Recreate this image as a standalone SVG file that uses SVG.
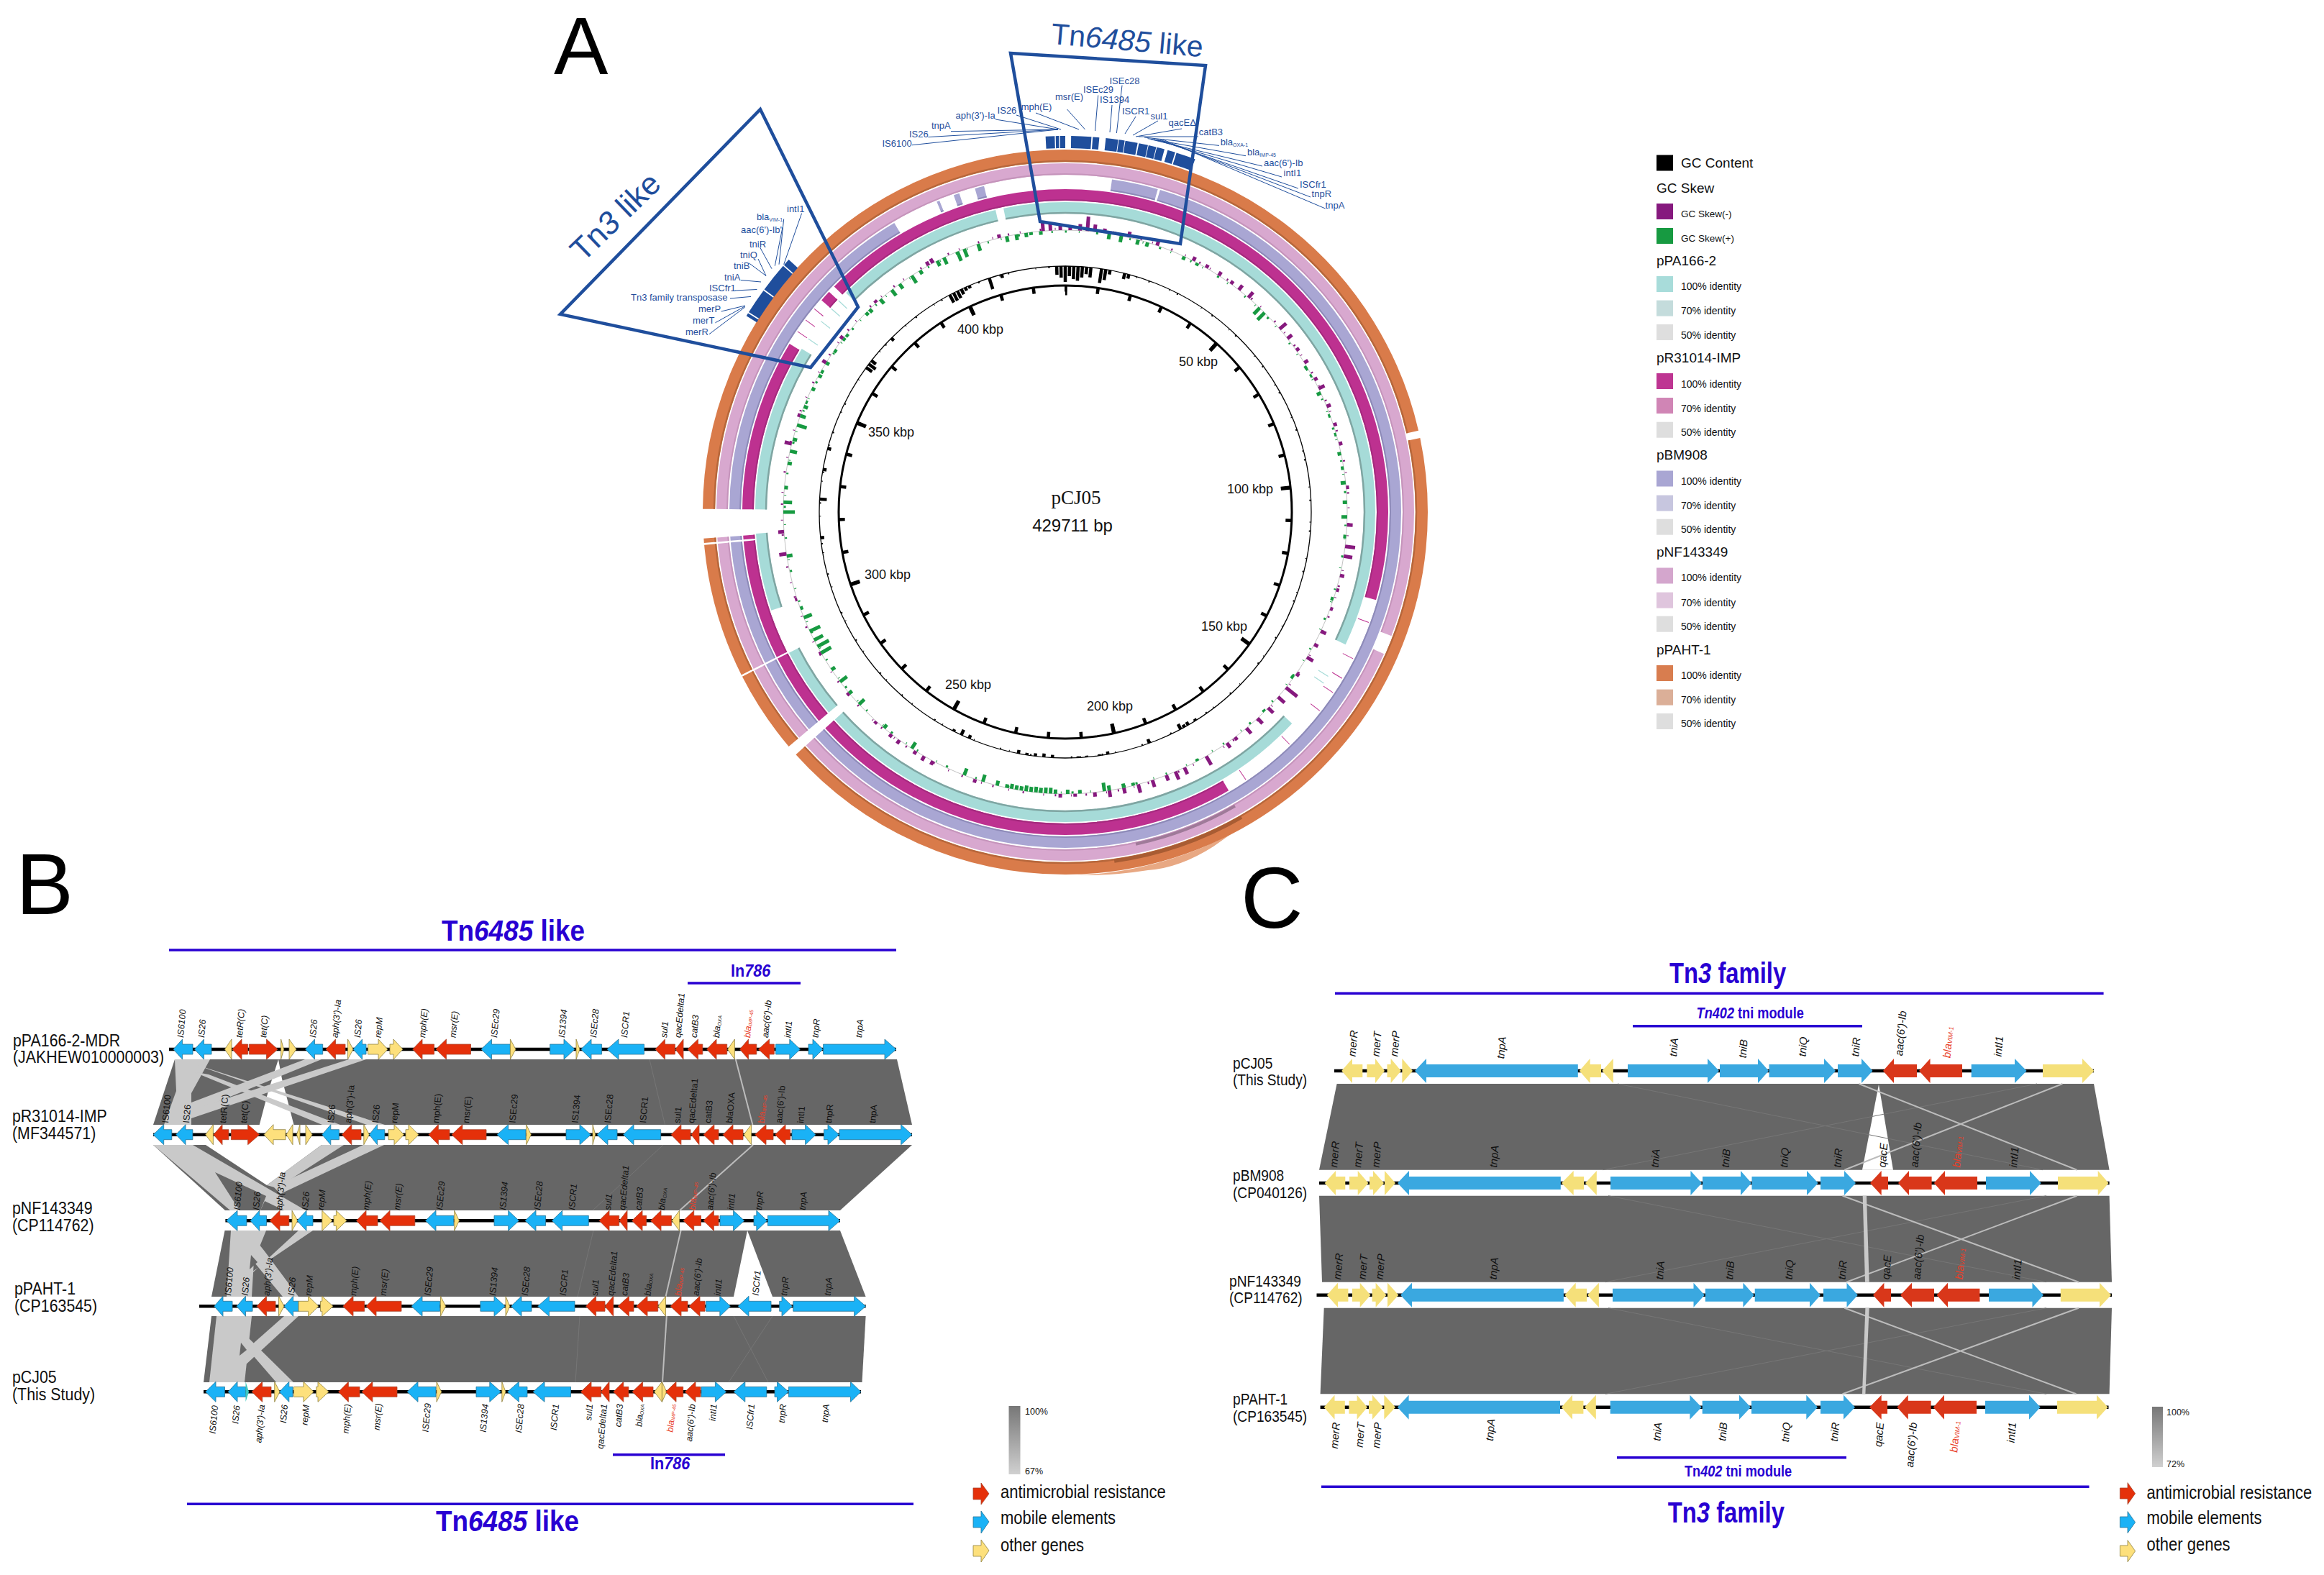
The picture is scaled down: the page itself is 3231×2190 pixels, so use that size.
<svg xmlns="http://www.w3.org/2000/svg" width="3231" height="2190" viewBox="0 0 3231 2190">
<style>
text{font-family:"Liberation Sans",Arial,sans-serif;fill:#111}
.big{font-size:120px;fill:#000}
.fb{fill:#2800d2;font-weight:bold}
.ttl{font-size:41px}.sub{font-size:24px}.mod{font-size:22px}
.ln{stroke:#2800d2;stroke-width:3.5;fill:none}
.t{font-size:24px}.tc{font-size:22px}
.g{font-size:12.5px;font-style:italic;dominant-baseline:central}
.c{font-size:15px;font-style:italic;dominant-baseline:central}
.n{font-style:normal}.e{text-anchor:end}.rd{fill:#e8402a}
.l{stroke:#000;stroke-width:4.5;fill:none}
.b{fill:#1ab2f6;stroke:#2c7596;stroke-width:.8}
.r{fill:#e5300a;stroke:#a8482f;stroke-width:.8}
.y{fill:#fde07c;stroke:#8f8240;stroke-width:.8}
.bc{fill:#3aa8e0}.rc{fill:#d9371a}.yc{fill:#f5e07a}
.d{fill:#666}.lt{fill:#c9c9c9}.wh{fill:#fff}
.f{stroke:#767676;stroke-width:1;fill:none}.h{stroke:#bcbcbc;stroke-width:2;fill:none}
.an{fill:#1f4e9c;font-size:13px}.lead{stroke:#1f4e9c;stroke-width:1;fill:none}
.frame{stroke:#1f4e9c;stroke-width:4.5;fill:none}
.lg1{font-size:19px}.lg2{font-size:14px}.lg3{font-size:13.5px}
.leg{font-size:25px}.pc{font-size:12.5px}
.kb{font-size:18px;text-anchor:middle}
.ring{fill:none}
</style>
<defs>
<linearGradient id="sc" x1="0" y1="0" x2="0" y2="1"><stop offset="0" stop-color="#777"/><stop offset="1" stop-color="#d0d0d0"/></linearGradient>
</defs>

<text x="770" y="103" style="font-size:113px;fill:#000">A</text>
<text class="big" x="22" y="1271">B</text>
<text class="big" x="1725" y="1290">C</text>

<g id="panel-A-rings">
<path d="M1820 1083L1687 1177Q1640 1207 1596 1210Q1545 1218 1497 1217A504 504 0 0 0 1820 1083Z" fill="#e8a883"/>
<g transform="translate(1481 712) rotate(-90)" class="ring">
<circle id="ring-pPAHT-1" r="495.5" stroke="#d97b4a" stroke-width="17" pathLength="360" stroke-dasharray="77 1.2 149.8 1.7 13.3 .3 21.5 .3 .7 4.7 89.5"/>
<circle id="ring-pNF143349" r="477" stroke="#d8a8cf" stroke-width="16" pathLength="360" stroke-dasharray="110.8 3.2 114 1.7 13.3 .3 21.5 .3 .7 4.7 89.5"/>
<circle id="ring-pBM908" r="459" stroke="#a9a6d3" stroke-width="16" pathLength="360" stroke-dasharray="0 8 8 .4 211.6 1.7 13.3 .3 21.5 .3 .7 4.7 58.9 8.1 .5 2.6 1 2.8 1.6 14"/>
<circle id="ring-pR31014" r="441" stroke="#bd3190" stroke-width="16" pathLength="360" stroke-dasharray="105.8 43.8 78.4 1.7 13.3 .3 21.5 .3 .7 4.7 30.9 9.6 2 1.3 45.7"/>
<circle id="ring-pPA166" r="423" stroke="#a6dbd8" stroke-width="16" pathLength="360" stroke-dasharray="115.3 17.7 95 1.7 13.3 8.5 14.5 4.5 31.3 13.2 32 1.5 11.5"/>
<circle r="416" stroke="#7fa5a2" stroke-width="2.5" pathLength="360" stroke-dasharray="115.3 17.7 95 1.7 13.3 8.5 14.5 4.5 31.3 13.2 32 1.5 11.5"/>
<circle r="434" stroke="#a52a7e" stroke-width="2" pathLength="360" stroke-dasharray="105.8 43.8 78.4 1.7 13.3 .3 21.5 .3 .7 4.7 30.9 9.6 2 1.3 45.7"/>
<circle r="452" stroke="#8d8ab8" stroke-width="2" pathLength="360" stroke-dasharray="0 8 8 .4 211.6 1.7 13.3 .3 21.5 .3 .7 4.7 58.9 8.1 .5 2.6 1 2.8 1.6 14"/>
<circle r="470" stroke="#c594bb" stroke-width="2" pathLength="360" stroke-dasharray="110.8 3.2 114 1.7 13.3 .3 21.5 .3 .7 4.7 89.5"/>
<circle r="488" stroke="#b7673b" stroke-width="2.5" pathLength="360" stroke-dasharray="77 1.2 149.8 1.7 13.3 .3 21.5 .3 .7 4.7 89.5"/>
<circle r="472" stroke="#9f7a99" stroke-width="4" pathLength="360" stroke-dasharray="0 150 18 192"/>
<circle r="490" stroke="#a85c33" stroke-width="5" pathLength="360" stroke-dasharray="0 150 22 188"/>
<circle id="features-Tn6485" r="514.5" stroke="#1f4e9c" stroke-width="17" pathLength="360" stroke-dasharray="1.4 .15 .5 .15 .8 .9 3.1 .2 1 1 1.9 .1 .9 .1 1.9 .2 1.4 .1 1.2 .1 1.2 .5 1.2 .2 3 337.1" transform="rotate(-3)"/>
<circle id="features-Tn3" r="512" stroke="#1f4e9c" stroke-width="17" pathLength="360" stroke-dasharray=".5 .2 4 .2 4.6 .2 1.1 349.2" transform="rotate(-58.4)"/>
<circle r="392" stroke="#999" stroke-width=".6"/>
<circle r="390" stroke="#179a41" stroke-width="3" stroke-dasharray="2 17 1 23 3 14 1 29"/>
<circle r="394" stroke="#86197e" stroke-width="3" stroke-dasharray="1 21 2 15 1 27 2 19" stroke-dashoffset="4"/>
<circle r="342" stroke="#000" stroke-width="1.3"/>
<circle r="341" stroke="#000" stroke-width="2.5" stroke-dasharray="1 17 2 29 1 11 2 37"/>
<circle r="315" stroke="#000" stroke-width="3"/>
<circle r="311" stroke="#000" stroke-width="9" pathLength="429.711" stroke-dasharray="1 9" stroke-dashoffset=".5"/>
<circle r="308.5" stroke="#000" stroke-width="14" pathLength="429.711" stroke-dasharray="1.2 48.8" stroke-dashoffset=".6"/>
</g>
<g transform="translate(1481 712)" fill="none">
<g stroke="#bd3190" stroke-width="1">
<path d="M0-449v16" transform="rotate(110)"/><path d="M0-449v16" transform="rotate(117)"/><path d="M0-449v16" transform="rotate(121)"/><path d="M0-449v16" transform="rotate(124)"/><path d="M0-449v16" transform="rotate(128)"/><path d="M0-449v16" transform="rotate(136)"/><path d="M0-449v16" transform="rotate(146)"/><path d="M0-449v16" transform="rotate(304)"/><path d="M0-449v16" transform="rotate(306.5)"/><path d="M0-449v16" transform="rotate(309)"/>
</g>
<g stroke="#a6dbd8" stroke-width="1.2">
<path d="M0-431v16" transform="rotate(122)"/><path d="M0-431v16" transform="rotate(123.5)"/><path d="M0-431v16" transform="rotate(304)"/><path d="M0-431v16" transform="rotate(308)"/><path d="M0-431v16" transform="rotate(311)"/><path d="M0-431v16" transform="rotate(313)"/>
</g>
<g id="gc-skew-neg" stroke="#86197e" stroke-width="5">
<path d="M0-392v-14" transform="rotate(-4.5)"/><path d="M0-392v-10" transform="rotate(-3)"/><path d="M0-392v-8" transform="rotate(-1)"/><path d="M0-392v-6" transform="rotate(1)"/><path d="M0-392v-9" transform="rotate(3)"/><path d="M0-392v-20" transform="rotate(4.5)"/><path d="M0-392v-10" transform="rotate(6)"/><path d="M0-392v-6" transform="rotate(8)"/><path d="M0-392v-4" transform="rotate(10)"/><path d="M0-392v-8" transform="rotate(13)"/><path d="M0-392v-7" transform="rotate(19)"/><path d="M0-392v-6" transform="rotate(27)"/><path d="M0-392v-5" transform="rotate(30)"/><path d="M0-392v-6" transform="rotate(33)"/><path d="M0-392v-5" transform="rotate(36)"/><path d="M0-392v-8" transform="rotate(38)"/><path d="M0-392v-10" transform="rotate(40.5)"/><path d="M0-392v-12" transform="rotate(49.5)"/><path d="M0-392v-8" transform="rotate(52)"/><path d="M0-392v-5" transform="rotate(55)"/><path d="M0-392v-6" transform="rotate(58)"/><path d="M0-392v-5" transform="rotate(62)"/><path d="M0-392v-9" transform="rotate(64)"/><path d="M0-392v-6" transform="rotate(68)"/><path d="M0-392v-5" transform="rotate(72)"/><path d="M0-392v-5" transform="rotate(76)"/><path d="M0-392v-4" transform="rotate(85)"/><path d="M0-392v-8" transform="rotate(92.6)"/><path d="M0-392v-14" transform="rotate(97)"/><path d="M0-392v-12" transform="rotate(99)"/><path d="M0-392v-6" transform="rotate(103)"/><path d="M0-392v-4" transform="rotate(106)"/><path d="M0-392v-4" transform="rotate(110)"/><path d="M0-392v-8" transform="rotate(115)"/><path d="M0-392v-6" transform="rotate(118)"/><path d="M0-392v-10" transform="rotate(121)"/><path d="M0-392v-5" transform="rotate(125)"/><path d="M0-392v-20" transform="rotate(128.5)"/><path d="M0-392v-12" transform="rotate(131)"/><path d="M0-392v-10" transform="rotate(134)"/><path d="M0-392v-10" transform="rotate(137)"/><path d="M0-392v-10" transform="rotate(140)"/><path d="M0-392v-5" transform="rotate(143)"/><path d="M0-392v-8" transform="rotate(145)"/><path d="M0-392v-14" transform="rotate(150)"/><path d="M0-392v-10" transform="rotate(155)"/><path d="M0-392v-12" transform="rotate(157)"/><path d="M0-392v-8" transform="rotate(159)"/><path d="M0-392v-10" transform="rotate(162)"/><path d="M0-392v-12" transform="rotate(165)"/><path d="M0-392v-8" transform="rotate(168)"/><path d="M0-392v-9" transform="rotate(171)"/><path d="M0-392v-6" transform="rotate(174)"/><path d="M0-392v-4" transform="rotate(178)"/><path d="M0-392v-5" transform="rotate(181)"/><path d="M0-392v-5" transform="rotate(198.6)"/><path d="M0-392v-6" transform="rotate(208)"/><path d="M0-392v-7" transform="rotate(210)"/><path d="M0-392v-5" transform="rotate(212)"/><path d="M0-392v-6" transform="rotate(216)"/><path d="M0-392v-5" transform="rotate(218)"/><path d="M0-392v-4" transform="rotate(222)"/><path d="M0-392v-4" transform="rotate(230)"/><path d="M0-392v-3" transform="rotate(240)"/><path d="M0-392v-3" transform="rotate(252)"/><path d="M0-392v-10" transform="rotate(261.5)"/><path d="M0-392v-8" transform="rotate(266)"/><path d="M0-392v-10" transform="rotate(284)"/><path d="M0-392v-4" transform="rotate(290)"/><path d="M0-392v-6" transform="rotate(302)"/><path d="M0-392v-5" transform="rotate(308)"/><path d="M0-392v-4" transform="rotate(318)"/><path d="M0-392v-7" transform="rotate(332)"/><path d="M0-392v-6" transform="rotate(331)"/><path d="M0-392v-5" transform="rotate(-13.5)"/>
</g>
<g id="gc-skew-pos" stroke="#179a41" stroke-width="5">
<path d="M0-392v8" transform="rotate(-12)"/><path d="M0-392v8" transform="rotate(-10)"/><path d="M0-392v6" transform="rotate(-8)"/><path d="M0-392v4" transform="rotate(-7)"/><path d="M0-392v5" transform="rotate(-5)"/><path d="M0-392v12" transform="rotate(-21)"/><path d="M0-392v10" transform="rotate(-18)"/><path d="M0-392v14" transform="rotate(-22.5)"/><path d="M0-392v10" transform="rotate(-25.5)"/><path d="M0-392v8" transform="rotate(-27)"/><path d="M0-392v6" transform="rotate(-31)"/><path d="M0-392v12" transform="rotate(-33)"/><path d="M0-392v8" transform="rotate(-36)"/><path d="M0-392v10" transform="rotate(-38)"/><path d="M0-392v8" transform="rotate(-41)"/><path d="M0-392v6" transform="rotate(-44)"/><path d="M0-392v4" transform="rotate(-52)"/><path d="M0-392v4" transform="rotate(-55)"/><path d="M0-392v5" transform="rotate(-58)"/><path d="M0-392v5" transform="rotate(-61)"/><path d="M0-392v3" transform="rotate(-64)"/><path d="M0-392v3" transform="rotate(-67)"/><path d="M0-392v8" transform="rotate(-70)"/><path d="M0-392v8" transform="rotate(9)"/><path d="M0-392v9" transform="rotate(11.5)"/><path d="M0-392v7" transform="rotate(15)"/><path d="M0-392v6" transform="rotate(17)"/><path d="M0-392v5" transform="rotate(25)"/><path d="M0-392v4" transform="rotate(28)"/><path d="M0-392v12" transform="rotate(43.6)"/><path d="M0-392v14" transform="rotate(45)"/><path d="M0-392v4" transform="rotate(59)"/><path d="M0-392v3" transform="rotate(61)"/><path d="M0-392v6" transform="rotate(65)"/><path d="M0-392v3" transform="rotate(70)"/><path d="M0-392v3" transform="rotate(74)"/><path d="M0-392v5" transform="rotate(78)"/><path d="M0-392v4" transform="rotate(81)"/><path d="M0-392v7" transform="rotate(84)"/><path d="M0-392v6" transform="rotate(88)"/><path d="M0-392v8" transform="rotate(91)"/><path d="M0-392v4" transform="rotate(95)"/><path d="M0-392v4" transform="rotate(108)"/><path d="M0-392v4" transform="rotate(126)"/><path d="M0-392v3" transform="rotate(135)"/><path d="M0-392v3" transform="rotate(152)"/><path d="M0-392v12" transform="rotate(172)"/><path d="M0-392v7" transform="rotate(171)"/><path d="M0-392v6" transform="rotate(168)"/><path d="M0-392v4" transform="rotate(166)"/><path d="M0-392v5" transform="rotate(177)"/><path d="M0-392v6" transform="rotate(179.5)"/><path d="M0-392v6" transform="rotate(182)"/><path d="M0-392v8" transform="rotate(183)"/><path d="M0-392v8" transform="rotate(184)"/><path d="M0-392v7" transform="rotate(185)"/><path d="M0-392v8" transform="rotate(186)"/><path d="M0-392v7" transform="rotate(187)"/><path d="M0-392v8" transform="rotate(188)"/><path d="M0-392v6" transform="rotate(189)"/><path d="M0-392v6" transform="rotate(190)"/><path d="M0-392v7" transform="rotate(191)"/><path d="M0-392v5" transform="rotate(192)"/><path d="M0-392v7" transform="rotate(194)"/><path d="M0-392v10" transform="rotate(197)"/><path d="M0-392v10" transform="rotate(201)"/><path d="M0-392v10" transform="rotate(213)"/><path d="M0-392v6" transform="rotate(220)"/><path d="M0-392v10" transform="rotate(227)"/><path d="M0-392v5" transform="rotate(230)"/><path d="M0-392v12" transform="rotate(233)"/><path d="M0-392v6" transform="rotate(236)"/><path d="M0-392v16" transform="rotate(240)"/><path d="M0-392v18" transform="rotate(241.5)"/><path d="M0-392v14" transform="rotate(243)"/><path d="M0-392v16" transform="rotate(245)"/><path d="M0-392v12" transform="rotate(248)"/><path d="M0-392v4" transform="rotate(250)"/><path d="M0-392v8" transform="rotate(261)"/><path d="M0-392v16" transform="rotate(270)"/><path d="M0-392v12" transform="rotate(272)"/><path d="M0-392v5" transform="rotate(275)"/><path d="M0-392v6" transform="rotate(280)"/><path d="M0-392v10" transform="rotate(282.5)"/><path d="M0-392v6" transform="rotate(285)"/><path d="M0-392v14" transform="rotate(288)"/><path d="M0-392v6" transform="rotate(292)"/><path d="M0-392v5" transform="rotate(296)"/><path d="M0-392v4" transform="rotate(300)"/><path d="M0-392v3" transform="rotate(305)"/><path d="M0-392v4" transform="rotate(309)"/><path d="M0-392v5" transform="rotate(315)"/>
</g>
<g id="gc-content" stroke="#000" stroke-width="4.5">
<path d="M0-342v12" transform="rotate(-2)"/><path d="M0-342v16" transform="rotate(-1)"/><path d="M0-342v22" transform="rotate(0)"/><path d="M0-342v14" transform="rotate(1)"/><path d="M0-342v18" transform="rotate(2)"/><path d="M0-342v20" transform="rotate(3)"/><path d="M0-342v15" transform="rotate(4)"/><path d="M0-342v10" transform="rotate(5)"/><path d="M0-342v14" transform="rotate(6)"/><path d="M0-342v20" transform="rotate(8.5)"/><path d="M0-342v15" transform="rotate(9.5)"/><path d="M0-342v6" transform="rotate(10.5)"/><path d="M0-342v8" transform="rotate(14)"/><path d="M0-342v6" transform="rotate(15)"/><path d="M0-342v16" transform="rotate(-18)"/><path d="M0-342v12" transform="rotate(-28)"/><path d="M0-342v12" transform="rotate(-27)"/><path d="M0-342v11" transform="rotate(-26)"/><path d="M0-342v8" transform="rotate(-25)"/><path d="M0-342v5" transform="rotate(-24)"/><path d="M0-342v4" transform="rotate(-23)"/><path d="M0-342v5" transform="rotate(-15)"/><path d="M0-342v5" transform="rotate(-45)"/><path d="M0-342v10" transform="rotate(-54)"/><path d="M0-342v12" transform="rotate(-53)"/><path d="M0-342v8" transform="rotate(-52)"/><path d="M0-342v4" transform="rotate(170)"/><path d="M0-342v2" transform="rotate(177)"/><path d="M0-342v4" transform="rotate(183)"/><path d="M0-342v5" transform="rotate(185)"/><path d="M0-342v4" transform="rotate(187)"/><path d="M0-342v3" transform="rotate(189)"/><path d="M0-342v5" transform="rotate(191)"/><path d="M0-342v2" transform="rotate(175)"/><path d="M0-342v2" transform="rotate(172)"/><path d="M0-342v6" transform="rotate(160)"/><path d="M0-342v5" transform="rotate(150)"/><path d="M0-342v8" transform="rotate(152)"/><path d="M0-342v4" transform="rotate(151)"/><path d="M0-342v3" transform="rotate(148)"/><path d="M0-342v8" transform="rotate(205)"/><path d="M0-342v5" transform="rotate(203)"/><path d="M0-342v3" transform="rotate(207)"/><path d="M0-342v10" transform="rotate(273)"/><path d="M0-342v5" transform="rotate(280)"/><path d="M0-342v5" transform="rotate(264)"/><path d="M0-342v5" transform="rotate(285)"/>
</g>
</g>
</g>

<g id="panel-A-labels">
<text class="kb" x="1363" y="464">400 kbp</text><text class="kb" x="1666" y="509">50 kbp</text><text class="kb" x="1239" y="607">350 kbp</text><text class="kb" x="1738" y="686">100 kbp</text><text class="kb" x="1234" y="805">300 kbp</text><text class="kb" x="1702" y="877">150 kbp</text><text class="kb" x="1346" y="958">250 kbp</text><text class="kb" x="1543" y="988">200 kbp</text>
<text x="1496" y="701" text-anchor="middle" style="font-family:'Liberation Serif',serif;font-size:27px">pCJ05</text>
<text x="1491" y="739" text-anchor="middle" font-size="24">429711 bp</text>
</g>

<g id="frame-Tn3" >
<path class="frame" d="M1057 152L779 437L1127 511L1193 427Z"/>
<text transform="translate(866 312) rotate(-44)" text-anchor="middle" font-size="44" style="fill:#1f4e9c">Tn<tspan font-style="italic">3</tspan> like</text>
<path class="lead" d="M1114.6 296.6L1089.7 367.7M1089.7 304.5L1083 367.7M1088 316L1077.3 369.7M1056.6 344L1073 373.7M1054 360L1065 383.5M1041.6 366L1065 383.5M1030 389.5L1058 392M1021.7 404L1052.4 402.5M1015 415L1044 412.4M1002.7 433L1035.8 425M994.4 448.8L1035.8 425.8M986 464.6L1035.8 427"/>
<text class="an" x="1094" y="295">intI1</text><text class="an" x="1052" y="306">bla<tspan font-size="7" dy="2">VIM-1</tspan></text><text class="an" x="1030" y="324">aac(6')-Ib'</text><text class="an" x="1042" y="344">tniR</text><text class="an" x="1029" y="359">tniQ</text><text class="an" x="1020" y="374">tniB</text><text class="an" x="1007" y="390">tniA</text><text class="an" x="986" y="405">ISCfr1</text><text class="an" x="877" y="418">Tn3 family transposase</text><text class="an" x="971" y="434">merP</text><text class="an" x="963" y="450">merT</text><text class="an" x="953" y="466">merR</text>
</g>

<g id="frame-Tn6485">
<path class="frame" d="M1405 74L1676 91L1641 339L1446 308Z"/>
<text transform="translate(1566 70) rotate(5)" text-anchor="middle" font-size="41" style="fill:#1f4e9c">Tn<tspan font-style="italic">6485</tspan> like</text>
<path class="lead" d="M1268 201.7L1471 180M1290.4 190.6L1471 180M1322 182.7L1471 180M1384 166L1471 180M1413 160L1475 180M1440 157L1500 180M1483.6 152L1508.5 180M1526.7 132.5L1522.5 182M1546 146L1543 184M1560 118.6L1552.4 185M1579 162L1564 186M1610 168L1575 188M1643 179L1579 190M1666 190L1583 190M1695 202.4L1591 191M1732 216.7L1595.5 192.6M1755 231L1599.7 193.7M1782 246L1604 193.7M1805 262L1608 193.7M1822 274L1612 193.7M1842.6 290L1616 193.7"/>
<text class="an" x="1226.5" y="204">IS6100</text><text class="an" x="1264" y="191">IS26</text><text class="an" x="1295" y="179">tnpA</text><text class="an" x="1328.5" y="165">aph(3')-Ia</text><text class="an" x="1386.6" y="158">IS26</text><text class="an" x="1419.7" y="153">mph(E)</text><text class="an" x="1467" y="139">msr(E)</text><text class="an" x="1506" y="128.5">ISEc29</text><text class="an" x="1542.5" y="116.6">ISEc28</text><text class="an" x="1529" y="143">IS1394</text><text class="an" x="1560" y="159">ISCR1</text><text class="an" x="1599.6" y="166">sul1</text><text class="an" x="1624.5" y="175">qacEΔ</text><text class="an" x="1666.8" y="188">catB3</text><text class="an" x="1696.7" y="202">bla<tspan font-size="7" dy="2">OXA-1</tspan></text><text class="an" x="1734" y="215.5">bla<tspan font-size="7" dy="2">IMP-45</tspan></text><text class="an" x="1757" y="230.5">aac(6')-Ib</text><text class="an" x="1784.6" y="245">intI1</text><text class="an" x="1807" y="261">ISCfr1</text><text class="an" x="1823.6" y="274">tnpR</text><text class="an" x="1842.6" y="290">tnpA</text>
</g>

<g id="legend-A">
<rect x="2303" y="215.5" width="23" height="22" fill="#000"/><text class="lg1" x="2337" y="233.4">GC Content</text>
<text class="lg1" x="2303" y="267.5">GC Skew</text>
<rect x="2303" y="283" width="23" height="22" fill="#86197e"/><text class="lg3" x="2337" y="302">GC Skew(-)</text>
<rect x="2303" y="317" width="23" height="22" fill="#179a41"/><text class="lg3" x="2337" y="336">GC Skew(+)</text>
<text class="lg1" x="2303" y="369">pPA166-2</text>
<rect x="2303" y="384" width="23" height="22" fill="#a8dcda"/><text class="lg2" x="2337" y="403">100% identity</text>
<rect x="2303" y="417.6" width="23" height="22" fill="#c4dcdc"/><text class="lg2" x="2337" y="437">70% identity</text>
<rect x="2303" y="451" width="23" height="22" fill="#dedede"/><text class="lg2" x="2337" y="471">50% identity</text>
<text class="lg1" x="2303" y="504.4">pR31014-IMP</text>
<rect x="2303" y="519" width="23" height="22" fill="#be3592"/><text class="lg2" x="2337" y="538.5">100% identity</text>
<rect x="2303" y="553" width="23" height="22" fill="#d085b5"/><text class="lg2" x="2337" y="572.7">70% identity</text>
<rect x="2303" y="586.7" width="23" height="22" fill="#dedede"/><text class="lg2" x="2337" y="606.3">50% identity</text>
<text class="lg1" x="2303" y="639.3">pBM908</text>
<rect x="2303" y="654.5" width="23" height="22" fill="#a9a6d3"/><text class="lg2" x="2337" y="673.5">100% identity</text>
<rect x="2303" y="688.6" width="23" height="22" fill="#c7c6df"/><text class="lg2" x="2337" y="707.6">70% identity</text>
<rect x="2303" y="721.7" width="23" height="22" fill="#dedede"/><text class="lg2" x="2337" y="741.2">50% identity</text>
<text class="lg1" x="2303" y="774.3">pNF143349</text>
<rect x="2303" y="789.5" width="23" height="22" fill="#d4a6cd"/><text class="lg2" x="2337" y="808.4">100% identity</text>
<rect x="2303" y="823.6" width="23" height="22" fill="#dfc5dd"/><text class="lg2" x="2337" y="842.6">70% identity</text>
<rect x="2303" y="856.7" width="23" height="22" fill="#dedede"/><text class="lg2" x="2337" y="876.2">50% identity</text>
<text class="lg1" x="2303" y="909.8">pPAHT-1</text>
<rect x="2303" y="925" width="23" height="22" fill="#d87d4f"/><text class="lg2" x="2337" y="944">100% identity</text>
<rect x="2303" y="958.6" width="23" height="22" fill="#dbaf98"/><text class="lg2" x="2337" y="977.5">70% identity</text>
<rect x="2303" y="992" width="23" height="22" fill="#dedede"/><text class="lg2" x="2337" y="1011">50% identity</text>
</g>

<g id="connectors">
<g id="ribbons-B">
<path class="d" d="M243 1473H1247L1268 1564H213Z"/>
<path class="wh" d="M387 1473L392 1500L408.5 1564H360.7L373 1517Z"/>
<path class="lt" d="M243 1473H292L266 1520V1564H228L245 1517Z"/>
<path class="lt" d="M424 1473H447L266 1547V1533Z"/>
<path class="lt" d="M485 1473H509L266 1555V1543Z"/>
<path class="lt" d="M265 1478L290 1486L535 1564H510Z"/>
<path class="lt" d="M268 1490L290 1494L473 1564H448Z"/>
<path class="f" d="M903 1473L924.5 1564"/><path class="h" d="M1022.8 1473L1046.4 1564"/>

<path class="d" d="M213 1592H1268L1168 1683H313Z"/>
<path class="wh" d="M286 1592H447L371 1648Z"/>
<path class="lt" d="M213 1592H268L425 1683H320Z"/>
<path class="d" d="M299 1630L370 1663L362 1683H333Z"/>
<path class="d" d="M362 1683L395 1683L368 1670Z"/>
<path class="lt" d="M447 1592H478L385 1652L371 1648Z"/>
<path class="lt" d="M505 1592H534L390 1660L380 1650Z"/>
<path class="f" d="M922 1592L824 1683"/><path class="h" d="M1047 1592L945 1683"/>

<path class="d" d="M312.5 1711H1168L1203.6 1803H294Z"/>
<path class="wh" d="M1039 1711L1074 1803H1020Z"/>
<path class="lt" d="M321 1711H370L353 1753L350 1803H315Z"/>
<path class="lt" d="M345 1711L368 1740L415 1803H393L345 1745Z"/>
<path class="lt" d="M415 1711H435L348 1770L330 1803H315Z"/>
<path class="d" d="M349 1745L358 1755L347 1765Z"/>
<path class="f" d="M825 1711L803 1803"/><path class="h" d="M946.6 1711L925.5 1803"/>

<path class="d" d="M294 1830H1203.6L1198.5 1922H283Z"/>
<path class="lt" d="M301 1830H350L340 1922H291Z"/>
<path class="lt" d="M332 1845L345 1860L408 1922H384L332 1862Z"/>
<path class="lt" d="M395 1830H415L315 1922H291Z"/>
<path class="d" d="M335 1867L343 1877L333 1885Z"/>
<path class="f" d="M806 1830L800 1922M1020 1830L1068 1922M1074 1830L1013 1922"/><path class="h" d="M926.8 1830L921 1922"/>
</g>
<g id="ribbons-C">
<path class="d" d="M1858.6 1507H2911L2932.6 1626.7H1834Z"/>
<path class="wh" d="M2612 1508L2632 1626.7H2589Z"/>
<path class="f" d="M2249 1507L2840 1626.7M2228.5 1626.7L2832 1507"/>
<path class="h" d="M2584.4 1507L2887.5 1626.7M2867.4 1507L2564.3 1626.7"/>
<path class="d" d="M1834 1662.7H2932.6L2936 1782.7H1838Z"/>
<path class="f" d="M2236 1662.7L2845 1782.7M2232 1782.7L2845 1662.7"/>
<path class="h" d="M2561.6 1662.7L2890 1782.7M2887.5 1662.7L2567 1782.7"/>
<path class="lt" d="M2589.7 1662.7H2595L2598.7 1782.7H2593Z"/>
<path class="d" d="M1840.7 1818.7H2936L2932.6 1938.3H1835.6Z"/>
<path class="f" d="M2236 1818.7L2845 1938.3M2232 1938.3L2845 1818.7"/>
<path class="h" d="M2564.3 1818.7L2886.5 1938.3M2890 1818.7L2561.6 1938.3"/>
<path class="lt" d="M2593.4 1818.7H2598.7L2593.4 1938.3H2589Z"/>
</g>
</g>

<g id="B-headers">
<text class="fb ttl" transform="translate(614 1308)scale(.9 1)">Tn<tspan font-style="italic">6485</tspan> like</text>
<path class="ln" d="M235 1321H1246"/>
<text class="fb sub" transform="translate(1016 1358)scale(.9 1)">In<tspan font-style="italic">786</tspan></text>
<path class="ln" d="M956 1367H1113"/>
<path class="ln" d="M260 2091.3H1270"/>
<text class="fb ttl" transform="translate(606 2129)scale(.9 1)">Tn<tspan font-style="italic">6485</tspan> like</text>
<path class="ln" d="M852 2022.7H1008"/>
<text class="fb sub" transform="translate(904 2043)scale(.9 1)">In<tspan font-style="italic">786</tspan></text>
</g>

<g id="B-names">
<text class="t" transform="translate(18 1455)scale(.89 1)">pPA166-2-MDR</text><text class="t" transform="translate(18 1478)scale(.89 1)">(JAKHEW010000003)</text>
<text class="t" transform="translate(17 1560)scale(.89 1)">pR31014-IMP</text><text class="t" transform="translate(17 1584)scale(.89 1)">(MF344571)</text>
<text class="t" transform="translate(17 1688)scale(.89 1)">pNF143349</text><text class="t" transform="translate(17 1712)scale(.89 1)">(CP114762)</text>
<text class="t" transform="translate(20 1800)scale(.89 1)">pPAHT-1</text><text class="t" transform="translate(20 1824)scale(.89 1)">(CP163545)</text>
<text class="t" transform="translate(17 1923)scale(.89 1)">pCJ05</text><text class="t" transform="translate(17 1947)scale(.89 1)">(This Study)</text>
</g>

<g id="B-pPA166-2-MDR" transform="translate(0 1459)">
<path class="l" d="M235 0H1246"/>
<path class="b" d="M241 0L253.6-14V-7H268V7H253.6V14Z"/><path class="b" d="M270.5 0L283.5-14V-7H294V7H283.5V14Z"/><path class="y" d="M312.5 0L322-14V14Z"/><path class="r" d="M323 0L336-14V-7H344.6V7H336V14Z"/><path class="r" d="M346.4-7H370.5V-14L386 0L370.5 14V7H346.4Z"/><path class="y" d="M390.6-14L394.6 0L390.6 14Z"/><path class="y" d="M402-14L412 0L402 14Z"/><path class="b" d="M424.5 0L437.5-14V-7H448.7V7H437.5V14Z"/><path class="r" d="M453 0L466.5-14V-7H480V7H466.5V14Z"/><path class="y" d="M483.5-14L491 0L483.5 14Z"/><path class="b" d="M491 0L503.6-14V-7H509V7H503.6V14Z"/><path class="y" d="M511.6-7H526V-14L539 0L526 14V7H511.6Z"/><path class="y" d="M542-7H547V-14L560 0L547 14V7H542Z"/><path class="r" d="M573.7 0L587-14V-7H603.6V7H587V14Z"/><path class="r" d="M606 0L620.5-14V-7H654.5V7H620.5V14Z"/><path class="b" d="M669 0L683.5-14V-7H709.4V7H683.5V14Z"/><path class="y" d="M709.4-14L717 0L709.4 14Z"/><path class="b" d="M764.7-7H784V-14L799 0L784 14V7H764.7Z"/><path class="y" d="M801-14L806 0L801 14Z"/><path class="b" d="M807.6 0L822-14V-7H836.6V7H822V14Z"/><path class="b" d="M844 0L860-14V-7H895.5V7H860V14Z"/><path class="r" d="M911 0L924.5-14V-7H938.4V7H924.5V14Z"/><path class="r" d="M939 0L950-14V14Z"/><path class="r" d="M956 0L970.5-14V-7H976.8V7H970.5V14Z"/><path class="r" d="M982.6 0L996-14V-7H1010.7V7H996V14Z"/><path class="y" d="M1011.6 0L1021.4-14V14Z"/><path class="r" d="M1028.6 0L1040.6-14V-7H1051.8V7H1040.6V14Z"/><path class="r" d="M1054.5 0L1069.6-14V-7H1076.3V7H1069.6V14Z"/><path class="b" d="M1078.6-7H1097.8V-14L1112.5 0L1097.8 14V7H1078.6Z"/><path class="b" d="M1124-7H1130V-14L1144 0L1130 14V7H1124Z"/><path class="b" d="M1144.6-7H1230V-14L1246 0L1230 14V7H1144.6Z"/>
<text class="g" transform="translate(251 -16)rotate(-85)">IS6100</text><text class="g" transform="translate(280 -16)rotate(-85)">IS26</text><text class="g" transform="translate(332.6 -16)rotate(-85)">tetR(C)</text><text class="g" transform="translate(366 -16)rotate(-85)">tet(C)</text><text class="g" transform="translate(435 -16)rotate(-85)">IS26</text><text class="g" transform="translate(465.6 -16)rotate(-85)">aph(3')-Ia</text><text class="g" transform="translate(497 -16)rotate(-85)">IS26</text><text class="g" transform="translate(525.4 -16)rotate(-85)">repM</text><text class="g" transform="translate(587 -16)rotate(-85)">mph(E)</text><text class="g" transform="translate(629.5 -16)rotate(-85)">msr(E)</text><text class="g" transform="translate(687 -16)rotate(-85)">ISEc29</text><text class="g" transform="translate(781 -16)rotate(-85)">IS1394</text><text class="g" transform="translate(825 -16)rotate(-85)">ISEc28</text><text class="g" transform="translate(868 -16)rotate(-85)">ISCR1</text><text class="g" transform="translate(923 -16)rotate(-85)">sul1</text><text class="g" transform="translate(942.4 -16)rotate(-85)">qacEdelta1</text><text class="g" transform="translate(964.7 -16)rotate(-85)">catB3</text><text class="g" transform="translate(996 -16)rotate(-85)">bla<tspan font-size="7" dy="2">OXA</tspan></text><text class="g rd" transform="translate(1039 -16)rotate(-85)">bla<tspan font-size="7" dy="2" class="rd">IMP-45</tspan></text><text class="g" transform="translate(1064 -16)rotate(-85)">aac(6')-Ib</text><text class="g" transform="translate(1095 -16)rotate(-85)">intI1</text><text class="g" transform="translate(1133.5 -16)rotate(-85)">tnpR</text><text class="g" transform="translate(1194 -16)rotate(-85)">tnpA</text>
</g>

<g id="B-pR31014-IMP" transform="translate(0 1577.7)">
<path class="l" d="M213 0H1268"/>
<path class="b" d="M213 0L227.7-14V-7H238.8V7H227.7V14Z"/><path class="b" d="M244.6 0L258-14V-7H267.9V7H258V14Z"/><path class="y" d="M285.7 0L296.4-14V14Z"/><path class="r" d="M296.9 0L309-14V-7H317.9V7H309V14Z"/><path class="r" d="M321.4-7H344.6V-14L360.7 0L344.6 14V7H321.4Z"/><path class="y" d="M367 0L380-14V-7H397V7H380V14Z"/><path class="y" d="M398 0L407-14V14Z"/><path class="y" d="M412.5 0L417-14V14Z"/><path class="y" d="M425-14L434 0L425 14Z"/><path class="b" d="M447.8 0L459.8-14V-7H471.4V7H459.8V14Z"/><path class="r" d="M475.4 0L488.8-14V-7H502V7H488.8V14Z"/><path class="y" d="M505.8-14L513.4 0L505.8 14Z"/><path class="b" d="M513.4 0L524.5-14V-7H534.8V7H524.5V14Z"/><path class="y" d="M540-7H548V-14L561.6 0L548 14V7H540Z"/><path class="y" d="M564-7H568V-14L582 0L568 14V7H564Z"/><path class="r" d="M596 0L609.4-14V-7H625V7H609.4V14Z"/><path class="r" d="M628 0L642.9-14V-7H676V7H642.9V14Z"/><path class="b" d="M691 0L706.7-14V-7H731V7H706.7V14Z"/><path class="y" d="M731.7-14L738.4 0L731.7 14Z"/><path class="b" d="M787-7H806V-14L821.4 0L806 14V7H787Z"/><path class="y" d="M824-14L827.7 0L824 14Z"/><path class="b" d="M830 0L845-14V-7H858V7H845V14Z"/><path class="b" d="M866.5 0L881-14V-7H918.7V7H881V14Z"/><path class="r" d="M933 0L946.9-14V-7H960V7H946.9V14Z"/><path class="r" d="M961 0L972-14V14Z"/><path class="r" d="M978 0L992.9-14V-7H999V7H992.9V14Z"/><path class="r" d="M1005 0L1019-14V-7H1033V7H1019V14Z"/><path class="y" d="M1034 0L1044.6-14V14Z"/><path class="r" d="M1049.6 0L1065-14V-7H1075V7H1065V14Z"/><path class="r" d="M1077.7 0L1092-14V-7H1098.7V7H1092V14Z"/><path class="b" d="M1101-7H1119.6V-14L1134 0L1119.6 14V7H1101Z"/><path class="b" d="M1145.5-7H1151V-14L1166.5 0L1151 14V7H1145.5Z"/><path class="b" d="M1167-7H1252.7V-14L1268 0L1252.7 14V7H1167Z"/>
<text class="g n" transform="translate(230 -16)rotate(-85)">IS6100</text><text class="g n" transform="translate(259 -16)rotate(-85)">IS26</text><text class="g n" transform="translate(310 -16)rotate(-85)">tetR(C)</text><text class="g n" transform="translate(339 -16)rotate(-85)">tet(C)</text><text class="g n" transform="translate(460 -16)rotate(-85)">IS26</text><text class="g n" transform="translate(484 -16)rotate(-85)">aph(3')-Ia</text><text class="g n" transform="translate(522 -16)rotate(-85)">IS26</text><text class="g n" transform="translate(548 -16)rotate(-85)">repM</text><text class="g n" transform="translate(606 -16)rotate(-85)">mph(E)</text><text class="g n" transform="translate(648 -16)rotate(-85)">msr(E)</text><text class="g n" transform="translate(712.5 -16)rotate(-85)">ISEc29</text><text class="g n" transform="translate(799.5 -16)rotate(-85)">IS1394</text><text class="g n" transform="translate(845 -16)rotate(-85)">ISEc28</text><text class="g n" transform="translate(894 -16)rotate(-85)">ISCR1</text><text class="g n" transform="translate(941.5 -16)rotate(-85)">sul1</text><text class="g n" transform="translate(961 -16)rotate(-85)">qacEdelta1</text><text class="g n" transform="translate(984 -16)rotate(-85)">catB3</text><text class="g n" transform="translate(1014 -16)rotate(-85)">blaOXA</text><text class="g n rd" transform="translate(1058.5 -16)rotate(-85)">bla<tspan font-size="7" dy="2" class="rd">IMP-45</tspan></text><text class="g n" transform="translate(1083 -16)rotate(-85)">aac(6')-Ib</text><text class="g n" transform="translate(1113 -16)rotate(-85)">intI1</text><text class="g n" transform="translate(1152 -16)rotate(-85)">tnpR</text><text class="g n" transform="translate(1213 -16)rotate(-85)">tnpA</text>
</g>

<g id="B-pNF143349" transform="translate(0 1697.3)">
<path class="l" d="M313.4 0H1168"/>
<path class="b" d="M314.7 0L330-14V-7H342.9V7H330V14Z"/><path class="b" d="M348 0L360.7-14V-7H370.5V7H360.7V14Z"/><path class="r" d="M375 0L389-14V-7H401.8V7H389V14Z"/><path class="y" d="M406-14L413.8 0L406 14Z"/><path class="b" d="M413 0L426-14V-7H435V7H426V14Z"/><path class="y" d="M447.8-14L462 0L447.8 14Z"/><path class="y" d="M464-7H467.4V-14L482 0L467.4 14V7H464Z"/><path class="r" d="M495.5 0L509-14V-7H525V7H509V14Z"/><path class="r" d="M528 0L542-14V-7H576.8V7H542V14Z"/><path class="b" d="M591.5 0L606-14V-7H630.8V7H606V14Z"/><path class="y" d="M631.7-14L638.4 0L631.7 14Z"/><path class="b" d="M687-7H706.7V-14L721.4 0L706.7 14V7H687Z"/><path class="b" d="M730 0L745-14V-7H758.5V7H745V14Z"/><path class="b" d="M767.4 0L781.7-14V-7H818.3V7H781.7V14Z"/><path class="r" d="M833 0L847-14V-7H860.7V7H847V14Z"/><path class="r" d="M861 0L872-14V14Z"/><path class="r" d="M878.6 0L893-14V-7H898.7V7H893V14Z"/><path class="r" d="M904.5 0L919-14V-7H933.5V7H919V14Z"/><path class="y" d="M934 0L944.6-14V14Z"/><path class="r" d="M950 0L964.7-14V-7H974.5V7H964.7V14Z"/><path class="r" d="M978 0L992.4-14V-7H999V7H992.4V14Z"/><path class="b" d="M1001-7H1019.6V-14L1034.8 0L1019.6 14V7H1001Z"/><path class="b" d="M1048-7H1051.8V-14L1066.5 0L1051.8 14V7H1048Z"/><path class="b" d="M1067.4-7H1152V-14L1168 0L1152 14V7H1067.4Z"/>
<text class="g" transform="translate(329.5 -14.6)rotate(-85)">IS6100</text><text class="g" transform="translate(356 -14.6)rotate(-85)">IS26</text><text class="g" transform="translate(388 -14.6)rotate(-85)">aph(3')-Ia</text><text class="g" transform="translate(424 -14.6)rotate(-85)">IS26</text><text class="g" transform="translate(446 -14.6)rotate(-85)">repM</text><text class="g" transform="translate(509 -14.6)rotate(-85)">mph(E)</text><text class="g" transform="translate(552 -14.6)rotate(-85)">msr(E)</text><text class="g" transform="translate(611 -14.6)rotate(-85)">ISEc29</text><text class="g" transform="translate(699 -14.6)rotate(-85)">IS1394</text><text class="g" transform="translate(747 -14.6)rotate(-85)">ISEc28</text><text class="g" transform="translate(795 -14.6)rotate(-85)">ISCR1</text><text class="g" transform="translate(845 -14.6)rotate(-85)">sul1</text><text class="g" transform="translate(865 -14.6)rotate(-85)">qacEdelta1</text><text class="g" transform="translate(887.5 -14.6)rotate(-85)">catB3</text><text class="g" transform="translate(920 -14.6)rotate(-85)">bla<tspan font-size="7" dy="2">OXA</tspan></text><text class="g rd" transform="translate(962.5 -14.6)rotate(-85)">bla<tspan font-size="7" dy="2" class="rd">IMP-45</tspan></text><text class="g" transform="translate(987 -14.6)rotate(-85)">aac(6')-Ib</text><text class="g" transform="translate(1016 -14.6)rotate(-85)">intI1</text><text class="g" transform="translate(1055 -14.6)rotate(-85)">tnpR</text><text class="g" transform="translate(1115.6 -14.6)rotate(-85)">tnpA</text>
</g>

<g id="B-pPAHT-1" transform="translate(0 1816.3)">
<path class="l" d="M277 0H1203.6"/>
<path class="b" d="M297.8 0L310-14V-7H323V7H310V14Z"/><path class="b" d="M329 0L341.5-14V-7H351V7H341.5V14Z"/><path class="r" d="M357 0L370.5-14V-7H383V7H370.5V14Z"/><path class="y" d="M387.5-14L395 0L387.5 14Z"/><path class="b" d="M395 0L407.6-14V-7H415V7H407.6V14Z"/><path class="y" d="M415-7H428.6V-14L442.9 0L428.6 14V7H415Z"/><path class="y" d="M445.5-7H447.8V-14L463 0L447.8 14V7H445.5Z"/><path class="r" d="M476.8 0L491-14V-7H506.7V7H491V14Z"/><path class="r" d="M509 0L523-14V-7H558V7H523V14Z"/><path class="b" d="M572 0L587-14V-7H611.6V7H587V14Z"/><path class="y" d="M612.5-14L619.6 0L612.5 14Z"/><path class="b" d="M667.9-7H687V-14L702.3 0L687 14V7H667.9Z"/><path class="y" d="M703-14L708.7 0L703 14Z"/><path class="b" d="M710.6 0L725-14V-7H739V7H725V14Z"/><path class="b" d="M747.6 0L763.5-14V-7H799V7H763.5V14Z"/><path class="r" d="M814.5 0L828.6-14V-7H841V7H828.6V14Z"/><path class="r" d="M841 0L852.8-14V14Z"/><path class="r" d="M859 0L874.5-14V-7H881V7H874.5V14Z"/><path class="r" d="M884.7 0L900-14V-7H914.7V7H900V14Z"/><path class="y" d="M915 0L925.5-14V14Z"/><path class="r" d="M932 0L947-14V-7H956V7H947V14Z"/><path class="r" d="M958 0L973-14V-7H980V7H973V14Z"/><path class="b" d="M981.6-7H1000.8V-14L1015.4 0L1000.8 14V7H981.6Z"/><path class="b" d="M1026 0L1041-14V-7H1072V7H1041V14Z"/><path class="b" d="M1083.7-7H1087V-14L1101.5 0L1087 14V7H1083.7Z"/><path class="b" d="M1102.8-7H1187.6V-14L1203.6 0L1187.6 14V7H1102.8Z"/>
<text class="g" transform="translate(317 -14.6)rotate(-85)">IS6100</text><text class="g" transform="translate(340.6 -14.6)rotate(-85)">IS26</text><text class="g" transform="translate(370.5 -14.6)rotate(-85)">aph(3')-Ia</text><text class="g" transform="translate(405 -14.6)rotate(-85)">IS26</text><text class="g" transform="translate(428.6 -14.6)rotate(-85)">repM</text><text class="g" transform="translate(491 -14.6)rotate(-85)">mph(E)</text><text class="g" transform="translate(532.6 -14.6)rotate(-85)">msr(E)</text><text class="g" transform="translate(594.6 -14.6)rotate(-85)">ISEc29</text><text class="g" transform="translate(685 -14.6)rotate(-85)">IS1394</text><text class="g" transform="translate(729.7 -14.6)rotate(-85)">ISEc28</text><text class="g" transform="translate(782.7 -14.6)rotate(-85)">ISCR1</text><text class="g" transform="translate(826.7 -14.6)rotate(-85)">sul1</text><text class="g" transform="translate(849 -14.6)rotate(-85)">qacEdelta1</text><text class="g" transform="translate(868 -14.6)rotate(-85)">catB3</text><text class="g" transform="translate(900.6 -14.6)rotate(-85)">bla<tspan font-size="7" dy="2">OXA</tspan></text><text class="g rd" transform="translate(943 -14.6)rotate(-85)">bla<tspan font-size="7" dy="2" class="rd">IMP-45</tspan></text><text class="g" transform="translate(967.6 -14.6)rotate(-85)">aac(6')-Ib</text><text class="g" transform="translate(997.6 -14.6)rotate(-85)">intI1</text><text class="g" transform="translate(1050.5 -14.6)rotate(-85)">ISCfr1</text><text class="g" transform="translate(1090 -14.6)rotate(-85)">tnpR</text><text class="g" transform="translate(1150.6 -14.6)rotate(-85)">tnpA</text>
</g>

<g id="B-pCJ05" transform="translate(0 1935.3)">
<path class="l" d="M283 0H1197"/>
<path class="b" d="M285.7 0L300-14V-7H312.5V7H300V14Z"/><path class="b" d="M317 0L330-14V-7H341.5V7H330V14Z"/><path d="M341.5-14L346 0L341.5 14Z" fill="#3fc7c0"/><path class="r" d="M350 0L364.7-14V-7H377V7H364.7V14Z"/><path class="y" d="M381.7-14L389 0L381.7 14Z"/><path class="b" d="M388.4 0L401.8-14V-7H407V7H401.8V14Z"/><path class="y" d="M408.5-7H421.9V-14L436 0L421.9 14V7H408.5Z"/><path class="y" d="M439.7-7H442V-14L457 0L442 14V7H439.7Z"/><path class="r" d="M470.5 0L484.4-14V-7H500V7H484.4V14Z"/><path class="r" d="M503 0L517.9-14V-7H552V7H517.9V14Z"/><path class="b" d="M566 0L581-14V-7H606V7H581V14Z"/><path class="y" d="M607-14L613.8 0L607 14Z"/><path class="b" d="M662-7H680.8V-14L696.4 0L680.8 14V7H662Z"/><path class="y" d="M697.8-14L703 0L697.8 14Z"/><path class="b" d="M705.5 0L721.4-14V-7H733V7H721.4V14Z"/><path class="b" d="M741 0L757-14V-7H793.5V7H757V14Z"/><path class="r" d="M807.5 0L822-14V-7H835.6V7H822V14Z"/><path class="r" d="M835.6 0L847-14V14Z"/><path class="r" d="M852.8 0L866.8-14V-7H873.9V7H866.8V14Z"/><path class="r" d="M879 0L893.6-14V-7H908V7H893.6V14Z"/><path class="y" d="M909.6 0L920.4-14V14Z"/><path class="y" d="M920.4-14L926.8 0L920.4 14Z"/><path class="r" d="M925.5 0L940-14V-7H949.7V7H940V14Z"/><path class="r" d="M952.3 0L967-14V-7H974V7H967V14Z"/><path class="b" d="M975-7H994.4V-14L1009.7 0L994.4 14V7H975Z"/><path class="b" d="M1020 0L1035.8-14V-7H1065.8V7H1035.8V14Z"/><path class="b" d="M1077-7H1080.5V-14L1096.4 0L1080.5 14V7H1077Z"/><path class="b" d="M1096.4-7H1182.5V-14L1197 0L1182.5 14V7H1096.4Z"/>
<text class="g e" transform="translate(299 19)rotate(-85)">IS6100</text><text class="g e" transform="translate(329.5 19)rotate(-85)">IS26</text><text class="g e" transform="translate(364 18)rotate(-85)">aph(3')-Ia</text><text class="g e" transform="translate(396 18)rotate(-85)">IS26</text><text class="g e" transform="translate(426 18)rotate(-85)">repM</text><text class="g e" transform="translate(484 17)rotate(-85)">mph(E)</text><text class="g e" transform="translate(527 16)rotate(-85)">msr(E)</text><text class="g e" transform="translate(595 16)rotate(-85)">ISEc29</text><text class="g e" transform="translate(675 17)rotate(-85)">IS1394</text><text class="g e" transform="translate(724.6 17)rotate(-85)">ISEc28</text><text class="g e" transform="translate(773 17)rotate(-85)">ISCR1</text><text class="g e" transform="translate(820 17)rotate(-85)">sul1</text><text class="g e" transform="translate(840 17)rotate(-85)">qacEdelta1</text><text class="g e" transform="translate(862 17)rotate(-85)">catB3</text><text class="g e" transform="translate(891 17)rotate(-85)">bla<tspan font-size="7" dy="2">OXA</tspan></text><text class="g e rd" transform="translate(935 17)rotate(-85)">bla<tspan font-size="7" dy="2" class="rd">IMP-45</tspan></text><text class="g e" transform="translate(962.5 17)rotate(-85)">aac(6')-Ib</text><text class="g e" transform="translate(992.5 17)rotate(-85)">intI1</text><text class="g e" transform="translate(1045 17)rotate(-85)">ISCfr1</text><text class="g e" transform="translate(1089 17)rotate(-85)">tnpR</text><text class="g e" transform="translate(1149 17)rotate(-85)">tnpA</text>
</g>

<g id="legend-B">
<rect x="1402.5" y="1955" width="16" height="95" fill="url(#sc)"/>
<text class="pc" x="1425" y="1967">100%</text><text class="pc" x="1425" y="2050">67%</text>
<path class="r" d="M1353 2069H1364V2062L1375 2077L1364 2092V2085H1353Z"/><text class="leg" transform="translate(1391 2083)scale(.88 1)">antimicrobial resistance</text>
<path class="b" d="M1353 2109H1364V2101L1375 2116L1364 2132V2124H1353Z"/><text class="leg" transform="translate(1391 2119)scale(.88 1)">mobile elements</text>
<path class="y" d="M1353 2149H1364V2141L1375 2156L1364 2172V2164H1353Z"/><text class="leg" transform="translate(1391 2157)scale(.88 1)">other genes</text>
</g>

<g id="C-headers">
<text class="fb ttl" transform="translate(2321 1366.7)scale(.8 1)">Tn<tspan font-style="italic">3</tspan> family</text>
<path class="ln" d="M1856 1381.3H2924.6"/>
<text class="fb mod" transform="translate(2358.6 1415.7)scale(.825 1)"><tspan font-style="italic">Tn402</tspan> tni module</text>
<path class="ln" d="M2270 1426.7H2589"/>
<path class="ln" d="M2248 2026.7H2567"/>
<text class="fb mod" transform="translate(2342 2053)scale(.825 1)">Tn<tspan font-style="italic">402</tspan> tni module</text>
<path class="ln" d="M1837 2067.3H2904.5"/>
<text class="fb ttl" transform="translate(2318.8 2116.7)scale(.8 1)">Tn<tspan font-style="italic">3</tspan> family</text>
</g>

<g id="C-names">
<text class="tc" transform="translate(1714 1485.7)scale(.87 1)">pCJ05</text><text class="tc" transform="translate(1714 1509)scale(.87 1)">(This Study)</text>
<text class="tc" transform="translate(1714 1642)scale(.87 1)">pBM908</text><text class="tc" transform="translate(1714 1665.7)scale(.87 1)">(CP040126)</text>
<text class="tc" transform="translate(1709 1789)scale(.87 1)">pNF143349</text><text class="tc" transform="translate(1709 1812)scale(.87 1)">(CP114762)</text>
<text class="tc" transform="translate(1714 1953)scale(.87 1)">pPAHT-1</text><text class="tc" transform="translate(1714 1977)scale(.87 1)">(CP163545)</text>
</g>

<g id="C-pCJ05" transform="translate(0 1489)">
<path class="l" d="M1855 0H2911"/>
<path class="yc" d="M1865.2 0L1880-17V-9H1894.3V9H1880V17Z"/><path class="yc" d="M1900.4-9H1912V-17L1925 0L1912 17V9H1900.4Z"/><path class="yc" d="M1928.5-9H1933.6V-17L1947.9 0L1933.6 17V9H1928.5Z"/><path class="yc" d="M1949.4-17L1964 0L1949.4 17Z"/><path class="bc" d="M1967 0L1983-17V-9H2193.8V9H1983V17Z"/><path class="yc" d="M2195.8 0L2210.6-17V-9H2226V9H2210.6V17Z"/><path class="yc" d="M2227.4 0L2242.8-17V17Z"/><path class="bc" d="M2263-9H2374V-17L2390 0L2374 17V9H2263Z"/><path class="bc" d="M2391-9H2444V-17L2459 0L2444 17V9H2391Z"/><path class="bc" d="M2459.5-9H2536V-17L2552 0L2536 17V9H2459.5Z"/><path class="bc" d="M2555-9H2588V-17L2603.5 0L2588 17V9H2555Z"/><path class="rc" d="M2618 0L2633-17V-9H2665V9H2633V17Z"/><path class="rc" d="M2668 0L2683.5-17V-9H2728V9H2683.5V17Z"/><path class="bc" d="M2740.7-9H2801V-17L2817.6 0L2801 17V9H2740.7Z"/><path class="yc" d="M2840-9H2895V-17L2911.4 0L2895 17V9H2840Z"/>
<text class="c" transform="translate(1879 -20)rotate(-85)">merR</text><text class="c" transform="translate(1912 -20)rotate(-85)">merT</text><text class="c" transform="translate(1937.6 -20)rotate(-85)">merP</text><text class="c" transform="translate(2085.6 -17)rotate(-85)">tnpA</text><text class="c" transform="translate(2325.4 -20)rotate(-85)">tniA</text><text class="c" transform="translate(2422 -18)rotate(-85)">tniB</text><text class="c" transform="translate(2505 -20)rotate(-85)">tniQ</text><text class="c" transform="translate(2578.6 -20)rotate(-85)">tniR</text><text class="c" transform="translate(2639.5 -21)rotate(-85)">aac(6')-Ib</text><text class="c rd" transform="translate(2706 -18)rotate(-85)">bla<tspan font-size="9" dy="3" class="rd">VIM-1</tspan></text><text class="c" transform="translate(2777 -20)rotate(-85)">intI1</text>
</g>

<g id="C-pBM908" transform="translate(0 1645)">
<path class="l" d="M1834 0H2932.6"/>
<path class="yc" d="M1841.7 0L1857-17V-9H1870.3V9H1857V17Z"/><path class="yc" d="M1876-9H1887.7V-17L1902.4 0L1887.7 17V9H1876Z"/><path class="yc" d="M1904-9H1909V-17L1924 0L1909 17V9H1904Z"/><path class="yc" d="M1925-17L1940 0L1925 17Z"/><path class="bc" d="M1943 0L1959-17V-9H2169.8V9H1959V17Z"/><path class="yc" d="M2171 0L2187.7-17V-9H2202V9H2187.7V17Z"/><path class="yc" d="M2204 0L2219.8-17V17Z"/><path class="bc" d="M2239-9H2350.4V-17L2366 0L2350.4 17V9H2239Z"/><path class="bc" d="M2367-9H2420V-17L2435 0L2420 17V9H2367Z"/><path class="bc" d="M2435.5-9H2512V-17L2527.7 0L2512 17V9H2435.5Z"/><path class="bc" d="M2531-9H2564V-17L2580 0L2564 17V9H2531Z"/><path class="rc" d="M2600 0L2615.7-17V-9H2625V9H2615.7V17Z"/><path class="rc" d="M2639 0L2654-17V-9H2685.6V9H2654V17Z"/><path class="rc" d="M2688.8 0L2704-17V-9H2749V9H2704V17Z"/><path class="bc" d="M2761-9H2822V-17L2837.7 0L2822 17V9H2761Z"/><path class="yc" d="M2861-9H2916.7V-17L2931.5 0L2916.7 17V9H2861Z"/>
<text class="c" transform="translate(1853.5 -21.7)rotate(-85)">merR</text><text class="c" transform="translate(1886.6 -21.7)rotate(-85)">merT</text><text class="c" transform="translate(1912 -21.7)rotate(-85)">merP</text><text class="c" transform="translate(2075.4 -21.7)rotate(-85)">tnpA</text><text class="c" transform="translate(2300 -21.7)rotate(-85)">tniA</text><text class="c" transform="translate(2398 -21.7)rotate(-85)">tniB</text><text class="c" transform="translate(2479.5 -21.7)rotate(-85)">tniQ</text><text class="c" transform="translate(2553.7 -21.7)rotate(-85)">tniR</text><text class="c" transform="translate(2616 -21.7)rotate(-85)">qacE</text><text class="c" transform="translate(2660.7 -21.7)rotate(-85)">aac(6')-Ib</text><text class="c rd" transform="translate(2719.5 -21.7)rotate(-85)">bla<tspan font-size="9" dy="3" class="rd">VIM-1</tspan></text><text class="c" transform="translate(2798.5 -21.7)rotate(-85)">intI1</text>
</g>

<g id="C-pNF143349" transform="translate(0 1800.7)">
<path class="l" d="M1830.5 0H2936"/>
<path class="yc" d="M1844.8 0L1860-17V-9H1874.4V9H1860V17Z"/><path class="yc" d="M1880-9H1890.7V-17L1905.5 0L1890.7 17V9H1880Z"/><path class="yc" d="M1907.6-9H1912.6V-17L1927.4 0L1912.6 17V9H1907.6Z"/><path class="yc" d="M1929-17L1944.3 0L1929 17Z"/><path class="bc" d="M1947 0L1963-17V-9H2173.9V9H1963V17Z"/><path class="yc" d="M2175.4 0L2190.7-17V-9H2206V9H2190.7V17Z"/><path class="yc" d="M2207 0L2222.9-17V17Z"/><path class="bc" d="M2242-9H2354.5V-17L2369.8 0L2354.5 17V9H2242Z"/><path class="bc" d="M2370.8-9H2423.4V-17L2438.7 0L2423.4 17V9H2370.8Z"/><path class="bc" d="M2439.7-9H2516V-17L2531 0L2516 17V9H2439.7Z"/><path class="bc" d="M2535-9H2567.5V-17L2582.8 0L2567.5 17V9H2535Z"/><path class="rc" d="M2604 0L2619.4-17V-9H2629V9H2619.4V17Z"/><path class="rc" d="M2642 0L2658-17V-9H2689V9H2658V17Z"/><path class="rc" d="M2692.5 0L2708-17V-9H2752.4V9H2708V17Z"/><path class="bc" d="M2765-9H2825.5V-17L2841 0L2825.5 17V9H2765Z"/><path class="yc" d="M2864.8-9H2919V-17L2935 0L2919 17V9H2864.8Z"/>
<text class="c" transform="translate(1858.6 -21.7)rotate(-85)">merR</text><text class="c" transform="translate(1893 -21.7)rotate(-85)">merT</text><text class="c" transform="translate(1917 -21.7)rotate(-85)">merP</text><text class="c" transform="translate(2075 -21.7)rotate(-85)">tnpA</text><text class="c" transform="translate(2306.5 -21.7)rotate(-85)">tniA</text><text class="c" transform="translate(2403.5 -21.7)rotate(-85)">tniB</text><text class="c" transform="translate(2486 -21.7)rotate(-85)">tniQ</text><text class="c" transform="translate(2560 -21.7)rotate(-85)">tniR</text><text class="c" transform="translate(2621 -21.7)rotate(-85)">qacE</text><text class="c" transform="translate(2664 -21.7)rotate(-85)">aac(6')-Ib</text><text class="c rd" transform="translate(2723 -21.7)rotate(-85)">bla<tspan font-size="9" dy="3" class="rd">VIM-1</tspan></text><text class="c" transform="translate(2802.7 -21.7)rotate(-85)">intI1</text>
</g>

<g id="C-pPAHT-1" transform="translate(0 1956.7)">
<path class="l" d="M1835.6 0H2931.5"/>
<path class="yc" d="M1840.7 0L1855.5-17V-9H1869.8V9H1855.5V17Z"/><path class="yc" d="M1875.4-9H1886.6V-17L1901 0L1886.6 17V9H1875.4Z"/><path class="yc" d="M1903-9H1908V-17L1922.9 0L1908 17V9H1903Z"/><path class="yc" d="M1924.4-17L1940 0L1924.4 17Z"/><path class="bc" d="M1942.8 0L1958.6-17V-9H2169V9H1958.6V17Z"/><path class="yc" d="M2170.8 0L2186-17V-9H2201.4V9H2186V17Z"/><path class="yc" d="M2203 0L2218.8-17V17Z"/><path class="bc" d="M2238.7-9H2349.4V-17L2365.7 0L2349.4 17V9H2238.7Z"/><path class="bc" d="M2366.7-9H2418V-17L2434 0L2418 17V9H2366.7Z"/><path class="bc" d="M2435-9H2511.3V-17L2527 0L2511.3 17V9H2435Z"/><path class="bc" d="M2531-9H2563V-17L2579 0L2563 17V9H2531Z"/><path class="rc" d="M2599 0L2615.7-17V-9H2624V9H2615.7V17Z"/><path class="rc" d="M2637.4 0L2652.8-17V-9H2684.6V9H2652.8V17Z"/><path class="rc" d="M2687.8 0L2703-17V-9H2748V9H2703V17Z"/><path class="bc" d="M2760-9H2821V-17L2836.7 0L2821 17V9H2760Z"/><path class="yc" d="M2860-9H2915V-17L2930.5 0L2915 17V9H2860Z"/>
<text class="c e" transform="translate(1857.5 21)rotate(-85)">merR</text><text class="c e" transform="translate(1892 21)rotate(-85)">merT</text><text class="c e" transform="translate(1915.7 21)rotate(-85)">merP</text><text class="c e" transform="translate(2072.9 16)rotate(-85)">tnpA</text><text class="c e" transform="translate(2305 21)rotate(-85)">tniA</text><text class="c e" transform="translate(2395.8 21)rotate(-85)">tniB</text><text class="c e" transform="translate(2483.7 21)rotate(-85)">tniQ</text><text class="c e" transform="translate(2551.6 21)rotate(-85)">tniR</text><text class="c e" transform="translate(2613.6 21)rotate(-85)">qacE</text><text class="c e" transform="translate(2659.7 21)rotate(-85)">aac(6')-Ib</text><text class="c e rd" transform="translate(2719.6 19)rotate(-85)">bla<tspan font-size="9" dy="3" class="rd">VIM-1</tspan></text><text class="c e" transform="translate(2797.5 21)rotate(-85)">intI1</text>
</g>

<g id="legend-C">
<rect x="2992" y="1956" width="15" height="84" fill="url(#sc)"/>
<text class="pc" x="3012" y="1967.7">100%</text><text class="pc" x="3012" y="2040">72%</text>
<path class="r" d="M2947.4 2069H2958V2061.7L2968.6 2076.7L2958 2091.7V2084H2947.4Z"/><text class="leg" transform="translate(2984.5 2084)scale(.88 1)">antimicrobial resistance</text>
<path class="b" d="M2947.4 2109H2958V2101.7L2968.6 2116.7L2958 2131.7V2124H2947.4Z"/><text class="leg" transform="translate(2984.5 2119)scale(.88 1)">mobile elements</text>
<path class="y" d="M2947.4 2149H2958V2141.7L2968.6 2156.7L2958 2171.7V2164H2947.4Z"/><text class="leg" transform="translate(2984.5 2156)scale(.88 1)">other genes</text>
</g>
</svg>
